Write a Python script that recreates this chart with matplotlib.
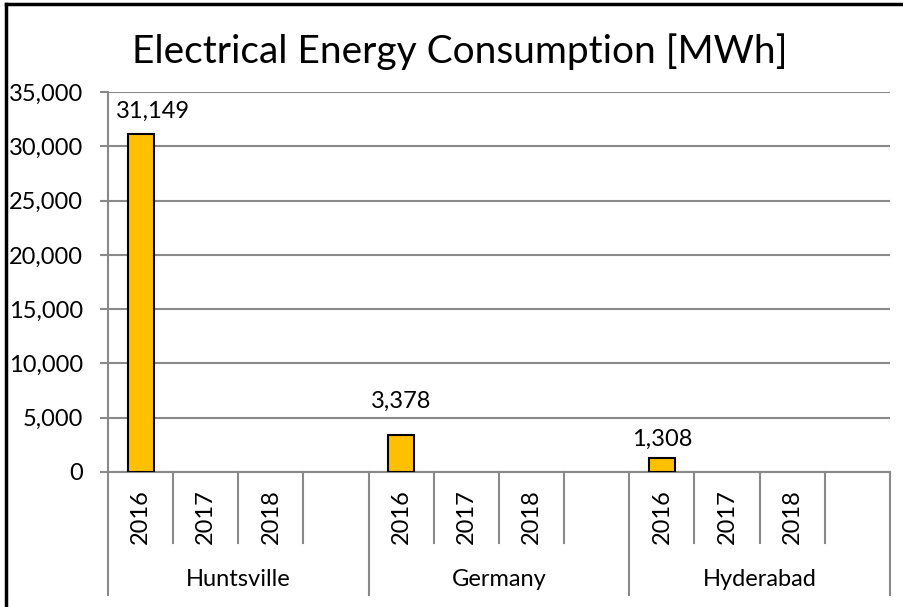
import numpy as np
import matplotlib.pyplot as plt
from matplotlib.lines import Line2D
import matplotlib.ticker as mticker

plt.rcParams['font.family'] = ['Lato', 'DejaVu Sans']

# data
sites = ['Huntsville', 'Germany', 'Hyderabad']
years = ['2016', '2017', '2018', '']
energy = {
    'Huntsville': [31149, 0, 0, 0],
    'Germany': [3378, 0, 0, 0],
    'Hyderabad': [1308, 0, 0, 0],
}
# label placement (px), as Excel put them
label_dx = [12, 0, 0]
label_dy = [22, 34, 18]

grid_col = '#898989'
bar_col = '#FFC000'

fig = plt.figure(figsize=(9.04, 6.07), dpi=100)
ax = fig.add_axes([108/904, 1 - 472/607, 782/904, 380/607])

n_years = len(years)
vals = []
for s in sites:
    vals += energy[s]
x = np.arange(len(vals))
values = np.array(vals, dtype=float)

mask = values > 0
ax.bar(x[mask], values[mask], width=0.4, color=bar_col, edgecolor='black',
       linewidth=1.5, zorder=3)

k = 0
for i, v in enumerate(values):
    if v > 0:
        ax.annotate(f'{int(v):,}', (x[i], v),
                    xytext=(label_dx[k] * 0.72, label_dy[k] * 0.72),
                    textcoords='offset points', ha='center', va='center',
                    fontsize=17)
        k += 1

ax.set_xlim(-0.5, len(vals) - 0.5)
ax.set_ylim(0, 35000)
ax.yaxis.set_major_locator(mticker.MultipleLocator(5000))
ax.yaxis.set_major_formatter(mticker.FuncFormatter(lambda v, p: f'{int(v):,}'))
ax.grid(axis='y', color=grid_col, linewidth=1.5, zorder=0)
ax.set_axisbelow(True)
for sp in ['top', 'right']:
    ax.spines[sp].set_visible(False)
ax.spines['left'].set_color(grid_col)
ax.spines['left'].set_linewidth(1.5)
ax.spines['bottom'].set_color(grid_col)
ax.spines['bottom'].set_linewidth(1.5)
ax.tick_params(axis='y', length=6, width=1.5, color=grid_col, labelsize=17, pad=12)
ax.set_xticks([])

# multi-level category axis
trans = ax.get_xaxis_transform()
for i in range(len(vals)):
    yr = years[i % n_years]
    if yr:
        ax.text(x[i], -0.118, yr, rotation=90, ha='center', va='center',
                fontsize=17, transform=trans)
    edge = i + 0.5
    if (i + 1) % n_years == 0:
        ax.add_line(Line2D([edge, edge], [0, -0.324], transform=trans,
                           color=grid_col, lw=1.5, clip_on=False))
    else:
        ax.add_line(Line2D([edge, edge], [0, -0.187], transform=trans,
                           color=grid_col, lw=1.5, clip_on=False))
ax.add_line(Line2D([-0.5, -0.5], [0, -0.324], transform=trans,
                   color=grid_col, lw=1.5, clip_on=False))
for j, s in enumerate(sites):
    ax.text(j * n_years + 1.5, -0.284, s, ha='center', va='center',
            fontsize=17, transform=trans)

fig.text(460/904, 1 - 52/607, 'Electrical Energy Consumption [MWh]',
         ha='center', va='center', fontsize=28)

# chart border (left and top visible)
fig.add_artist(Line2D([6/904, 6/904], [0, 1 - 4/607], color='black', lw=2.5,
                      transform=fig.transFigure))
fig.add_artist(Line2D([6/904, 1], [1 - 4/607, 1 - 4/607], color='black', lw=2.5,
                      transform=fig.transFigure))

fig.savefig('out.png', dpi=100)
